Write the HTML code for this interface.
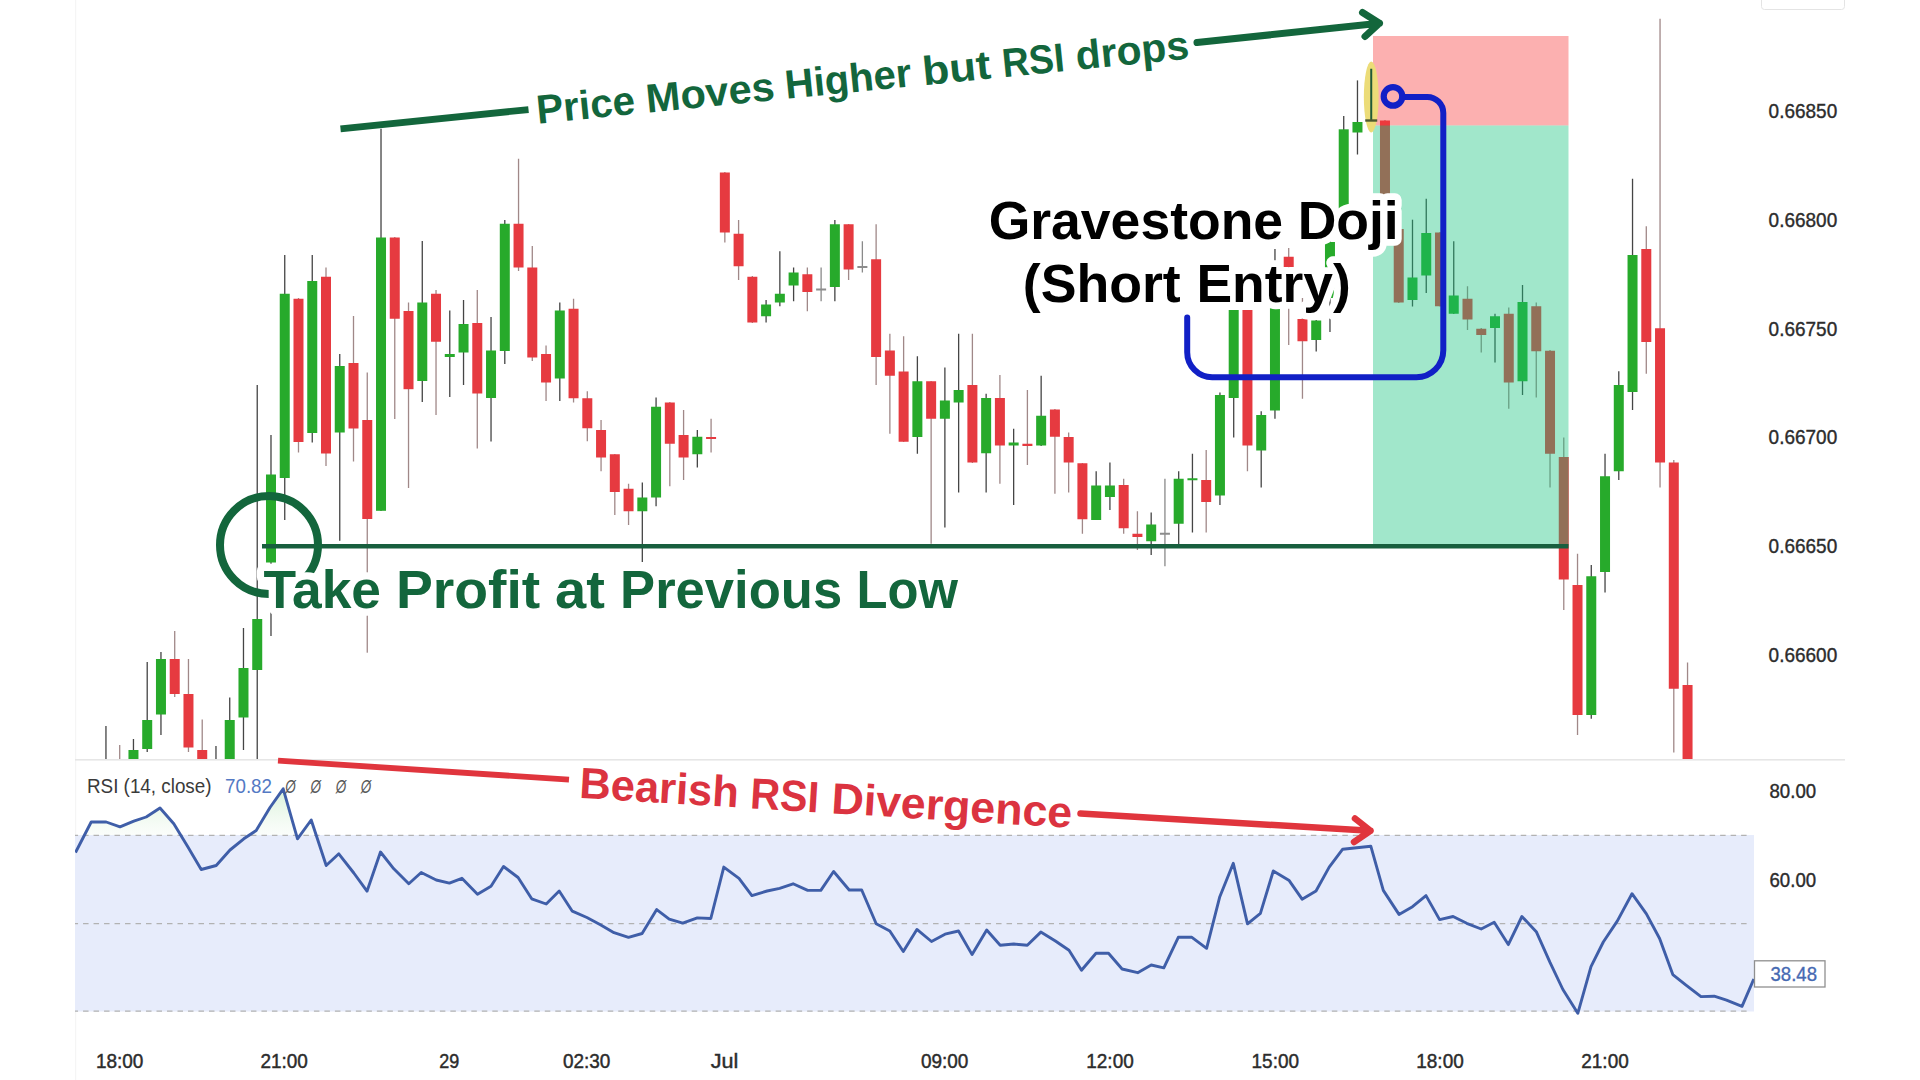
<!DOCTYPE html><html><head><meta charset="utf-8"><title>chart</title><style>html,body{margin:0;padding:0;background:#fff;width:1920px;height:1080px;overflow:hidden}svg{display:block}</style></head><body>
<svg width="1920" height="1080" viewBox="0 0 1920 1080" font-family="Liberation Sans, sans-serif">
<defs><linearGradient id="ob" x1="0" y1="780" x2="0" y2="835" gradientUnits="userSpaceOnUse"><stop offset="0" stop-color="#c8ecc8" stop-opacity="0.9"/><stop offset="1" stop-color="#e8f6e8" stop-opacity="0.2"/></linearGradient><clipPath id="main"><rect x="75" y="0" width="1680" height="759.5"/></clipPath><clipPath id="rsi"><rect x="75" y="760" width="1679" height="300"/></clipPath></defs>
<rect width="1920" height="1080" fill="#fff"/>
<rect x="75" y="0" width="1.2" height="1080" fill="#f5f5f5"/>
<rect x="75" y="835" width="1679" height="176.5" fill="#e7ecfb"/>
<polygon points="84.4,835.3 91.2,822.0 106.2,822.0 120.0,826.8 133.8,821.2 146.2,817.0 160.0,808.0 173.8,823.8 180.8,835.3" fill="url(#ob)"/>
<polygon points="249.0,835.3 256.2,830.5 270.0,807.5 283.2,788.8 296.5,835.3" fill="url(#ob)"/>
<polygon points="300.0,835.3 311.2,820.0 316.3,835.3" fill="url(#ob)"/>
<line x1="75" y1="835.3" x2="1750" y2="835.3" stroke="#b2b2b2" stroke-width="1.3" stroke-dasharray="5.5 4.994" stroke-dashoffset="2.44"/>
<line x1="75" y1="923.6" x2="1750" y2="923.6" stroke="#b2b2b2" stroke-width="1.3" stroke-dasharray="5.5 4.994" stroke-dashoffset="2.44"/>
<line x1="75" y1="1011.1" x2="1750" y2="1011.1" stroke="#b2b2b2" stroke-width="1.3" stroke-dasharray="5.5 4.994" stroke-dashoffset="2.44"/>
<polyline clip-path="url(#rsi)" points="75.5,852.5 91.2,822.0 106.2,822.0 120.0,826.8 133.8,821.2 146.2,817.0 160.0,808.0 173.8,823.8 187.5,846.2 201.2,869.5 216.2,865.5 230.0,850.0 243.8,838.8 256.2,830.5 270.0,807.5 283.2,788.8 297.5,838.8 311.2,820.0 326.2,865.5 338.8,853.8 353.8,873.0 367.0,891.2 380.5,852.0 393.8,868.8 408.8,883.8 421.2,872.5 436.2,880.0 449.4,883.1 461.9,878.3 477.5,894.2 491.0,886.2 503.5,866.5 518.1,877.5 531.7,898.8 546.2,904.0 559.2,891.0 572.3,911.2 586.9,917.5 600.4,924.8 614.0,932.7 628.5,937.3 642.1,933.5 656.7,909.6 669.2,919.2 682.7,923.1 697.3,917.9 710.8,918.5 723.8,867.1 739.0,878.3 751.9,895.6 767.1,891.0 779.6,888.3 793.1,883.8 807.7,890.4 820.8,890.4 833.6,871.5 849.2,890.0 861.7,890.0 876.2,923.8 889.8,931.0 903.3,951.5 916.9,929.4 931.5,941.5 945.0,934.2 958.5,931.0 972.1,954.6 986.7,930.0 1000.2,945.2 1013.8,944.0 1027.3,945.2 1040.8,932.1 1055.4,941.0 1069.0,950.2 1081.5,970.2 1096.0,953.3 1108.5,953.3 1122.1,969.0 1137.7,972.7 1151.2,965.0 1163.8,967.9 1178.3,937.3 1191.9,937.3 1206.6,948.3 1219.8,896.7 1233.3,863.3 1247.5,923.8 1260.4,913.3 1273.3,871.0 1289.2,880.6 1302.1,899.2 1316.0,891.0 1329.2,867.1 1342.7,849.2 1370.8,846.2 1383.3,890.4 1399.0,914.4 1412.5,906.7 1426.0,895.6 1439.6,919.6 1453.1,916.5 1466.7,923.3 1481.2,929.0 1494.2,922.3 1508.3,944.6 1521.9,916.5 1536.5,932.1 1550.0,962.3 1562.9,989.5 1577.8,1013.3 1591.0,966.7 1603.3,942.0 1617.4,920.9 1632.0,893.7 1646.4,913.9 1659.6,938.5 1672.8,974.6 1686.0,985.1 1701.0,996.6 1714.2,996.2 1726.5,1000.1 1742.0,1006.3 1753.8,979.0" fill="none" stroke="#3f5ea8" stroke-width="2.9" stroke-linejoin="round"/>
<g clip-path="url(#main)">
<rect x="105.30" y="726.00" width="1.3" height="44.00" fill="#454545"/>
<rect x="100.95" y="760.00" width="10.0" height="10.00" fill="#27aa2b"/>
<rect x="119.05" y="745.00" width="1.3" height="25.00" fill="#a08888"/>
<rect x="114.70" y="760.00" width="10.0" height="10.00" fill="#e63a40"/>
<rect x="132.81" y="739.00" width="1.3" height="31.00" fill="#454545"/>
<rect x="128.46" y="750.00" width="10.0" height="20.00" fill="#27aa2b"/>
<rect x="146.56" y="662.00" width="1.3" height="90.00" fill="#454545"/>
<rect x="142.21" y="720.00" width="10.0" height="29.00" fill="#27aa2b"/>
<rect x="160.31" y="652.00" width="1.3" height="83.00" fill="#454545"/>
<rect x="155.96" y="659.00" width="10.0" height="55.50" fill="#27aa2b"/>
<rect x="174.06" y="631.00" width="1.3" height="66.00" fill="#a08888"/>
<rect x="169.72" y="659.00" width="10.0" height="35.00" fill="#e63a40"/>
<rect x="187.82" y="659.00" width="1.3" height="93.00" fill="#a08888"/>
<rect x="183.47" y="694.00" width="10.0" height="53.50" fill="#e63a40"/>
<rect x="201.57" y="719.50" width="1.3" height="50.50" fill="#a08888"/>
<rect x="197.22" y="750.00" width="10.0" height="20.00" fill="#e63a40"/>
<rect x="215.32" y="746.00" width="1.3" height="24.00" fill="#454545"/>
<rect x="210.97" y="760.00" width="10.0" height="10.00" fill="#27aa2b"/>
<rect x="229.08" y="697.50" width="1.3" height="72.50" fill="#454545"/>
<rect x="224.73" y="720.00" width="10.0" height="50.00" fill="#27aa2b"/>
<rect x="242.83" y="628.00" width="1.3" height="122.00" fill="#454545"/>
<rect x="238.48" y="668.00" width="10.0" height="49.50" fill="#27aa2b"/>
<rect x="256.58" y="385.00" width="1.3" height="385.00" fill="#454545"/>
<rect x="252.23" y="619.00" width="10.0" height="51.00" fill="#27aa2b"/>
<rect x="270.34" y="435.00" width="1.3" height="201.00" fill="#454545"/>
<rect x="265.99" y="474.50" width="10.0" height="88.00" fill="#27aa2b"/>
<rect x="284.09" y="255.00" width="1.3" height="265.00" fill="#454545"/>
<rect x="279.74" y="293.75" width="10.0" height="184.25" fill="#27aa2b"/>
<rect x="297.84" y="298.00" width="1.3" height="154.50" fill="#a08888"/>
<rect x="293.49" y="298.75" width="10.0" height="143.25" fill="#e63a40"/>
<rect x="311.60" y="255.00" width="1.3" height="187.50" fill="#454545"/>
<rect x="307.25" y="281.00" width="10.0" height="152.00" fill="#27aa2b"/>
<rect x="325.35" y="267.50" width="1.3" height="198.50" fill="#a08888"/>
<rect x="321.00" y="276.75" width="10.0" height="176.75" fill="#e63a40"/>
<rect x="339.10" y="354.00" width="1.3" height="186.80" fill="#454545"/>
<rect x="334.75" y="366.00" width="10.0" height="66.50" fill="#27aa2b"/>
<rect x="352.85" y="316.00" width="1.3" height="145.50" fill="#a08888"/>
<rect x="348.50" y="363.00" width="10.0" height="65.50" fill="#e63a40"/>
<rect x="366.61" y="372.50" width="1.3" height="280.20" fill="#a08888"/>
<rect x="362.26" y="420.00" width="10.0" height="99.00" fill="#e63a40"/>
<rect x="380.36" y="128.75" width="1.3" height="382.25" fill="#454545"/>
<rect x="376.01" y="237.50" width="10.0" height="273.30" fill="#27aa2b"/>
<rect x="394.11" y="237.00" width="1.3" height="182.00" fill="#a08888"/>
<rect x="389.76" y="237.50" width="10.0" height="81.25" fill="#e63a40"/>
<rect x="407.87" y="302.50" width="1.3" height="185.50" fill="#a08888"/>
<rect x="403.52" y="311.00" width="10.0" height="78.20" fill="#e63a40"/>
<rect x="421.62" y="241.00" width="1.3" height="161.00" fill="#454545"/>
<rect x="417.27" y="302.50" width="10.0" height="78.50" fill="#27aa2b"/>
<rect x="435.37" y="290.00" width="1.3" height="125.00" fill="#a08888"/>
<rect x="431.02" y="293.75" width="10.0" height="48.00" fill="#e63a40"/>
<rect x="449.12" y="310.50" width="1.3" height="86.50" fill="#454545"/>
<rect x="444.77" y="354.00" width="10.0" height="3.00" fill="#27aa2b"/>
<rect x="462.88" y="300.00" width="1.3" height="85.00" fill="#454545"/>
<rect x="458.53" y="324.00" width="10.0" height="28.50" fill="#27aa2b"/>
<rect x="476.63" y="290.00" width="1.3" height="158.50" fill="#a08888"/>
<rect x="472.28" y="323.00" width="10.0" height="70.50" fill="#e63a40"/>
<rect x="490.38" y="317.00" width="1.3" height="124.50" fill="#454545"/>
<rect x="486.03" y="350.50" width="10.0" height="47.50" fill="#27aa2b"/>
<rect x="504.14" y="220.00" width="1.3" height="144.00" fill="#454545"/>
<rect x="499.79" y="223.75" width="10.0" height="127.25" fill="#27aa2b"/>
<rect x="517.89" y="158.75" width="1.3" height="112.25" fill="#a08888"/>
<rect x="513.54" y="223.75" width="10.0" height="43.75" fill="#e63a40"/>
<rect x="531.64" y="246.00" width="1.3" height="115.00" fill="#a08888"/>
<rect x="527.29" y="267.50" width="10.0" height="90.00" fill="#e63a40"/>
<rect x="545.40" y="345.50" width="1.3" height="55.50" fill="#a08888"/>
<rect x="541.05" y="354.00" width="10.0" height="28.50" fill="#e63a40"/>
<rect x="559.15" y="302.50" width="1.3" height="98.50" fill="#454545"/>
<rect x="554.80" y="310.50" width="10.0" height="68.00" fill="#27aa2b"/>
<rect x="572.90" y="298.75" width="1.3" height="103.75" fill="#a08888"/>
<rect x="568.55" y="308.75" width="10.0" height="89.50" fill="#e63a40"/>
<rect x="586.66" y="391.25" width="1.3" height="50.00" fill="#a08888"/>
<rect x="582.31" y="398.25" width="10.0" height="30.00" fill="#e63a40"/>
<rect x="600.41" y="420.00" width="1.3" height="51.25" fill="#a08888"/>
<rect x="596.06" y="430.00" width="10.0" height="27.50" fill="#e63a40"/>
<rect x="614.16" y="454.00" width="1.3" height="61.00" fill="#a08888"/>
<rect x="609.81" y="454.25" width="10.0" height="37.75" fill="#e63a40"/>
<rect x="627.91" y="483.75" width="1.3" height="41.25" fill="#a08888"/>
<rect x="623.56" y="488.75" width="10.0" height="22.50" fill="#e63a40"/>
<rect x="641.67" y="482.50" width="1.3" height="79.50" fill="#454545"/>
<rect x="637.32" y="497.50" width="10.0" height="13.75" fill="#27aa2b"/>
<rect x="655.42" y="397.50" width="1.3" height="108.75" fill="#454545"/>
<rect x="651.07" y="406.75" width="10.0" height="90.75" fill="#27aa2b"/>
<rect x="669.17" y="402.00" width="1.3" height="84.25" fill="#a08888"/>
<rect x="664.82" y="402.50" width="10.0" height="41.25" fill="#e63a40"/>
<rect x="682.93" y="410.00" width="1.3" height="70.00" fill="#a08888"/>
<rect x="678.58" y="435.00" width="10.0" height="22.50" fill="#e63a40"/>
<rect x="696.68" y="430.00" width="1.3" height="37.50" fill="#454545"/>
<rect x="692.33" y="436.75" width="10.0" height="17.50" fill="#27aa2b"/>
<rect x="710.43" y="418.75" width="1.3" height="33.75" fill="#a08888"/>
<rect x="706.08" y="437.00" width="10.0" height="2.00" fill="#e63a40"/>
<rect x="724.19" y="172.00" width="1.3" height="70.50" fill="#a08888"/>
<rect x="719.84" y="172.50" width="10.0" height="60.00" fill="#e63a40"/>
<rect x="737.94" y="220.00" width="1.3" height="60.00" fill="#a08888"/>
<rect x="733.59" y="233.75" width="10.0" height="32.50" fill="#e63a40"/>
<rect x="751.69" y="276.00" width="1.3" height="47.00" fill="#a08888"/>
<rect x="747.34" y="276.75" width="10.0" height="45.75" fill="#e63a40"/>
<rect x="765.44" y="300.00" width="1.3" height="22.50" fill="#454545"/>
<rect x="761.09" y="304.50" width="10.0" height="11.75" fill="#27aa2b"/>
<rect x="779.20" y="251.25" width="1.3" height="55.00" fill="#454545"/>
<rect x="774.85" y="293.75" width="10.0" height="8.75" fill="#27aa2b"/>
<rect x="792.95" y="267.50" width="1.3" height="33.75" fill="#454545"/>
<rect x="788.60" y="272.50" width="10.0" height="13.00" fill="#27aa2b"/>
<rect x="806.70" y="267.50" width="1.3" height="43.75" fill="#a08888"/>
<rect x="802.35" y="274.25" width="10.0" height="17.75" fill="#e63a40"/>
<rect x="820.46" y="267.50" width="1.3" height="33.75" fill="#8a8a8a"/>
<rect x="816.11" y="288.50" width="10.0" height="2.00" fill="#8c8c8c"/>
<rect x="834.21" y="220.00" width="1.3" height="81.25" fill="#454545"/>
<rect x="829.86" y="224.25" width="10.0" height="62.75" fill="#27aa2b"/>
<rect x="847.96" y="224.00" width="1.3" height="56.00" fill="#a08888"/>
<rect x="843.61" y="224.25" width="10.0" height="45.25" fill="#e63a40"/>
<rect x="861.72" y="241.25" width="1.3" height="31.25" fill="#8a8a8a"/>
<rect x="857.37" y="266.00" width="10.0" height="2.00" fill="#8c8c8c"/>
<rect x="875.47" y="224.25" width="1.3" height="160.75" fill="#a08888"/>
<rect x="871.12" y="259.25" width="10.0" height="97.75" fill="#e63a40"/>
<rect x="889.22" y="333.75" width="1.3" height="100.00" fill="#a08888"/>
<rect x="884.87" y="350.50" width="10.0" height="25.25" fill="#e63a40"/>
<rect x="902.97" y="336.25" width="1.3" height="105.75" fill="#a08888"/>
<rect x="898.62" y="371.50" width="10.0" height="70.25" fill="#e63a40"/>
<rect x="916.73" y="356.25" width="1.3" height="97.50" fill="#454545"/>
<rect x="912.38" y="381.25" width="10.0" height="55.75" fill="#27aa2b"/>
<rect x="930.48" y="381.00" width="1.3" height="162.75" fill="#a08888"/>
<rect x="926.13" y="381.25" width="10.0" height="37.50" fill="#e63a40"/>
<rect x="944.23" y="367.50" width="1.3" height="160.00" fill="#454545"/>
<rect x="939.88" y="400.50" width="10.0" height="18.25" fill="#27aa2b"/>
<rect x="957.99" y="333.75" width="1.3" height="158.75" fill="#454545"/>
<rect x="953.64" y="390.00" width="10.0" height="12.50" fill="#27aa2b"/>
<rect x="971.74" y="333.75" width="1.3" height="129.25" fill="#a08888"/>
<rect x="967.39" y="385.00" width="10.0" height="77.50" fill="#e63a40"/>
<rect x="985.49" y="393.75" width="1.3" height="98.75" fill="#454545"/>
<rect x="981.14" y="398.00" width="10.0" height="55.25" fill="#27aa2b"/>
<rect x="999.25" y="375.00" width="1.3" height="108.75" fill="#a08888"/>
<rect x="994.90" y="398.00" width="10.0" height="47.50" fill="#e63a40"/>
<rect x="1013.00" y="428.75" width="1.3" height="76.25" fill="#454545"/>
<rect x="1008.65" y="442.50" width="10.0" height="3.00" fill="#27aa2b"/>
<rect x="1026.75" y="390.00" width="1.3" height="75.00" fill="#a08888"/>
<rect x="1022.40" y="443.75" width="10.0" height="2.25" fill="#e63a40"/>
<rect x="1040.50" y="375.75" width="1.3" height="70.25" fill="#454545"/>
<rect x="1036.15" y="415.75" width="10.0" height="29.75" fill="#27aa2b"/>
<rect x="1054.26" y="409.00" width="1.3" height="84.75" fill="#a08888"/>
<rect x="1049.91" y="409.50" width="10.0" height="27.25" fill="#e63a40"/>
<rect x="1068.01" y="432.50" width="1.3" height="60.00" fill="#a08888"/>
<rect x="1063.66" y="437.00" width="10.0" height="25.50" fill="#e63a40"/>
<rect x="1081.76" y="463.00" width="1.3" height="70.75" fill="#a08888"/>
<rect x="1077.41" y="463.25" width="10.0" height="56.00" fill="#e63a40"/>
<rect x="1095.52" y="471.25" width="1.3" height="48.75" fill="#454545"/>
<rect x="1091.17" y="485.50" width="10.0" height="34.50" fill="#27aa2b"/>
<rect x="1109.27" y="462.50" width="1.3" height="47.50" fill="#454545"/>
<rect x="1104.92" y="485.50" width="10.0" height="11.50" fill="#27aa2b"/>
<rect x="1123.02" y="478.75" width="1.3" height="55.00" fill="#a08888"/>
<rect x="1118.67" y="485.00" width="10.0" height="43.25" fill="#e63a40"/>
<rect x="1136.77" y="511.25" width="1.3" height="38.75" fill="#a08888"/>
<rect x="1132.42" y="533.75" width="10.0" height="3.25" fill="#e63a40"/>
<rect x="1150.53" y="512.50" width="1.3" height="42.50" fill="#454545"/>
<rect x="1146.18" y="524.50" width="10.0" height="16.75" fill="#27aa2b"/>
<rect x="1164.28" y="478.75" width="1.3" height="87.50" fill="#8a8a8a"/>
<rect x="1159.93" y="532.75" width="10.0" height="2.00" fill="#8c8c8c"/>
<rect x="1178.03" y="471.25" width="1.3" height="73.75" fill="#454545"/>
<rect x="1173.68" y="478.75" width="10.0" height="45.00" fill="#27aa2b"/>
<rect x="1191.79" y="453.75" width="1.3" height="78.75" fill="#454545"/>
<rect x="1187.44" y="478.25" width="10.0" height="2.00" fill="#27aa2b"/>
<rect x="1205.54" y="450.00" width="1.3" height="82.50" fill="#a08888"/>
<rect x="1201.19" y="480.00" width="10.0" height="22.00" fill="#e63a40"/>
<rect x="1219.29" y="392.50" width="1.3" height="112.50" fill="#454545"/>
<rect x="1214.94" y="395.00" width="10.0" height="100.50" fill="#27aa2b"/>
<rect x="1233.05" y="310.00" width="1.3" height="127.50" fill="#454545"/>
<rect x="1228.70" y="310.00" width="10.0" height="88.00" fill="#27aa2b"/>
<rect x="1246.80" y="310.00" width="1.3" height="161.25" fill="#a08888"/>
<rect x="1242.45" y="310.00" width="10.0" height="135.50" fill="#e63a40"/>
<rect x="1260.55" y="411.25" width="1.3" height="76.25" fill="#454545"/>
<rect x="1256.20" y="415.00" width="10.0" height="35.50" fill="#27aa2b"/>
<rect x="1274.31" y="249.00" width="1.3" height="169.75" fill="#454545"/>
<rect x="1269.96" y="300.00" width="10.0" height="110.50" fill="#27aa2b"/>
<rect x="1288.06" y="248.00" width="1.3" height="97.00" fill="#a08888"/>
<rect x="1283.71" y="256.75" width="10.0" height="10.25" fill="#e63a40"/>
<rect x="1301.81" y="298.00" width="1.3" height="100.75" fill="#a08888"/>
<rect x="1297.46" y="319.00" width="10.0" height="22.25" fill="#e63a40"/>
<rect x="1315.56" y="320.00" width="1.3" height="31.50" fill="#454545"/>
<rect x="1311.21" y="320.50" width="10.0" height="19.50" fill="#27aa2b"/>
<rect x="1329.32" y="240.00" width="1.3" height="92.00" fill="#454545"/>
<rect x="1324.97" y="242.00" width="10.0" height="56.00" fill="#27aa2b"/>
<rect x="1343.07" y="116.00" width="1.3" height="124.00" fill="#454545"/>
<rect x="1338.72" y="129.30" width="10.0" height="110.70" fill="#27aa2b"/>
<rect x="1356.82" y="80.40" width="1.3" height="74.10" fill="#454545"/>
<rect x="1352.47" y="122.00" width="10.0" height="10.50" fill="#27aa2b"/>
<rect x="1384.33" y="120.00" width="1.3" height="120.00" fill="#a08888"/>
<rect x="1379.98" y="120.50" width="10.0" height="119.50" fill="#e63a40"/>
<rect x="1398.08" y="228.75" width="1.3" height="74.25" fill="#a08888"/>
<rect x="1393.73" y="229.00" width="10.0" height="73.50" fill="#e63a40"/>
<rect x="1411.84" y="219.70" width="1.3" height="86.80" fill="#454545"/>
<rect x="1407.49" y="277.50" width="10.0" height="22.50" fill="#27aa2b"/>
<rect x="1425.59" y="198.75" width="1.3" height="94.25" fill="#454545"/>
<rect x="1421.24" y="233.00" width="10.0" height="42.50" fill="#27aa2b"/>
<rect x="1439.34" y="232.00" width="1.3" height="74.50" fill="#a08888"/>
<rect x="1434.99" y="232.50" width="10.0" height="73.75" fill="#e63a40"/>
<rect x="1453.09" y="241.25" width="1.3" height="72.75" fill="#454545"/>
<rect x="1448.74" y="295.50" width="10.0" height="18.25" fill="#27aa2b"/>
<rect x="1466.85" y="286.25" width="1.3" height="43.75" fill="#a08888"/>
<rect x="1462.50" y="298.75" width="10.0" height="20.75" fill="#e63a40"/>
<rect x="1480.60" y="328.00" width="1.3" height="24.50" fill="#a08888"/>
<rect x="1476.25" y="328.75" width="10.0" height="6.25" fill="#e63a40"/>
<rect x="1494.35" y="313.75" width="1.3" height="48.75" fill="#454545"/>
<rect x="1490.00" y="316.25" width="10.0" height="11.75" fill="#27aa2b"/>
<rect x="1508.11" y="307.50" width="1.3" height="101.25" fill="#a08888"/>
<rect x="1503.76" y="313.75" width="10.0" height="68.75" fill="#e63a40"/>
<rect x="1521.86" y="285.00" width="1.3" height="110.00" fill="#454545"/>
<rect x="1517.51" y="302.00" width="10.0" height="79.25" fill="#27aa2b"/>
<rect x="1535.61" y="302.50" width="1.3" height="95.00" fill="#a08888"/>
<rect x="1531.26" y="306.25" width="10.0" height="45.00" fill="#e63a40"/>
<rect x="1549.37" y="350.00" width="1.3" height="137.50" fill="#a08888"/>
<rect x="1545.02" y="350.75" width="10.0" height="103.00" fill="#e63a40"/>
<rect x="1563.12" y="437.50" width="1.3" height="172.50" fill="#a08888"/>
<rect x="1558.77" y="457.00" width="10.0" height="122.50" fill="#e63a40"/>
<rect x="1576.87" y="553.75" width="1.3" height="181.25" fill="#a08888"/>
<rect x="1572.52" y="585.00" width="10.0" height="130.00" fill="#e63a40"/>
<rect x="1590.62" y="565.00" width="1.3" height="153.75" fill="#454545"/>
<rect x="1586.27" y="576.25" width="10.0" height="138.75" fill="#27aa2b"/>
<rect x="1604.38" y="453.75" width="1.3" height="138.75" fill="#454545"/>
<rect x="1600.03" y="476.25" width="10.0" height="95.75" fill="#27aa2b"/>
<rect x="1618.13" y="371.25" width="1.3" height="108.75" fill="#454545"/>
<rect x="1613.78" y="385.00" width="10.0" height="86.25" fill="#27aa2b"/>
<rect x="1631.88" y="178.75" width="1.3" height="231.25" fill="#454545"/>
<rect x="1627.53" y="255.00" width="10.0" height="137.00" fill="#27aa2b"/>
<rect x="1645.64" y="226.25" width="1.3" height="147.50" fill="#a08888"/>
<rect x="1641.29" y="249.00" width="10.0" height="93.00" fill="#e63a40"/>
<rect x="1659.39" y="18.75" width="1.3" height="468.75" fill="#a08888"/>
<rect x="1655.04" y="328.25" width="10.0" height="134.25" fill="#e63a40"/>
<rect x="1673.14" y="460.00" width="1.3" height="292.50" fill="#a08888"/>
<rect x="1668.79" y="462.50" width="10.0" height="226.25" fill="#e63a40"/>
<rect x="1686.89" y="662.50" width="1.3" height="107.50" fill="#a08888"/>
<rect x="1682.55" y="685.00" width="10.0" height="85.00" fill="#e63a40"/>
</g>
<rect x="1373" y="36" width="195.5" height="89.5" fill="rgb(247,57,57)" fill-opacity="0.4"/>
<rect x="1373" y="125.5" width="195.5" height="420.5" fill="rgb(20,195,125)" fill-opacity="0.4"/>
<ellipse cx="1371.23" cy="97" rx="7.4" ry="35.5" fill="#ecdc78"/>
<rect x="1370.23" y="68.75" width="2" height="52" fill="#1f5a38"/>
<rect x="1365.23" y="119.3" width="12" height="2.4" fill="#4f5a30"/>
<rect x="75" y="759" width="1770" height="1.6" fill="#e6e6e6"/>
<text x="1768.6" y="117.5" fill="#2c2c2c" stroke="#2c2c2c" stroke-width="0.4" font-size="20.8" textLength="68.6" lengthAdjust="spacingAndGlyphs">0.66850</text>
<text x="1768.6" y="226.5" fill="#2c2c2c" stroke="#2c2c2c" stroke-width="0.4" font-size="20.8" textLength="68.6" lengthAdjust="spacingAndGlyphs">0.66800</text>
<text x="1768.6" y="335.5" fill="#2c2c2c" stroke="#2c2c2c" stroke-width="0.4" font-size="20.8" textLength="68.6" lengthAdjust="spacingAndGlyphs">0.66750</text>
<text x="1768.6" y="444.0" fill="#2c2c2c" stroke="#2c2c2c" stroke-width="0.4" font-size="20.8" textLength="68.6" lengthAdjust="spacingAndGlyphs">0.66700</text>
<text x="1768.6" y="552.5" fill="#2c2c2c" stroke="#2c2c2c" stroke-width="0.4" font-size="20.8" textLength="68.6" lengthAdjust="spacingAndGlyphs">0.66650</text>
<text x="1768.6" y="661.5" fill="#2c2c2c" stroke="#2c2c2c" stroke-width="0.4" font-size="20.8" textLength="68.6" lengthAdjust="spacingAndGlyphs">0.66600</text>
<text x="1769.5" y="797.9" fill="#2c2c2c" stroke="#2c2c2c" stroke-width="0.4" font-size="20" textLength="46.6" lengthAdjust="spacingAndGlyphs">80.00</text>
<text x="1769.5" y="887.2" fill="#2c2c2c" stroke="#2c2c2c" stroke-width="0.4" font-size="20" textLength="46.6" lengthAdjust="spacingAndGlyphs">60.00</text>
<rect x="1754.5" y="960.8" width="70.5" height="26.2" fill="#fff" stroke="#8f8f8f" stroke-width="1.3"/>
<text x="1770.5" y="981.3" fill="#4669b2" stroke="#4669b2" stroke-width="0.35" font-size="20.5" textLength="46.5" lengthAdjust="spacingAndGlyphs">38.48</text>
<rect x="1761.5" y="-6" width="83" height="15.5" rx="3" fill="#fff" stroke="#e4e4e4" stroke-width="1"/>
<text x="119.7" y="1068.3" text-anchor="middle" fill="#2c2c2c" stroke="#2c2c2c" stroke-width="0.45" font-size="21" textLength="47.5" lengthAdjust="spacingAndGlyphs">18:00</text>
<text x="284.2" y="1068.3" text-anchor="middle" fill="#2c2c2c" stroke="#2c2c2c" stroke-width="0.45" font-size="21" textLength="47.5" lengthAdjust="spacingAndGlyphs">21:00</text>
<text x="449.3" y="1068.3" text-anchor="middle" fill="#2c2c2c" stroke="#2c2c2c" stroke-width="0.45" font-size="21" textLength="20.0" lengthAdjust="spacingAndGlyphs">29</text>
<text x="586.7" y="1068.3" text-anchor="middle" fill="#2c2c2c" stroke="#2c2c2c" stroke-width="0.45" font-size="21" textLength="47.5" lengthAdjust="spacingAndGlyphs">02:30</text>
<text x="724.5" y="1068.3" text-anchor="middle" fill="#2c2c2c" stroke="#2c2c2c" stroke-width="0.45" font-size="21" textLength="27.6" lengthAdjust="spacingAndGlyphs">Jul</text>
<text x="944.7" y="1068.3" text-anchor="middle" fill="#2c2c2c" stroke="#2c2c2c" stroke-width="0.45" font-size="21" textLength="47.5" lengthAdjust="spacingAndGlyphs">09:00</text>
<text x="1110.0" y="1068.3" text-anchor="middle" fill="#2c2c2c" stroke="#2c2c2c" stroke-width="0.45" font-size="21" textLength="47.5" lengthAdjust="spacingAndGlyphs">12:00</text>
<text x="1275.3" y="1068.3" text-anchor="middle" fill="#2c2c2c" stroke="#2c2c2c" stroke-width="0.45" font-size="21" textLength="47.5" lengthAdjust="spacingAndGlyphs">15:00</text>
<text x="1440.0" y="1068.3" text-anchor="middle" fill="#2c2c2c" stroke="#2c2c2c" stroke-width="0.45" font-size="21" textLength="47.5" lengthAdjust="spacingAndGlyphs">18:00</text>
<text x="1605.0" y="1068.3" text-anchor="middle" fill="#2c2c2c" stroke="#2c2c2c" stroke-width="0.45" font-size="21" textLength="47.5" lengthAdjust="spacingAndGlyphs">21:00</text>
<text x="87" y="792.5" fill="#3a3a3a" font-size="20" textLength="124.5" lengthAdjust="spacingAndGlyphs">RSI (14, close)</text>
<text x="225" y="792.5" fill="#5479c4" font-size="20" textLength="47" lengthAdjust="spacingAndGlyphs">70.82</text>
<text x="290.5" y="792.8" fill="#5a5a5a" font-size="18" text-anchor="middle" textLength="10.5" lengthAdjust="spacingAndGlyphs" font-style="italic">&#216;</text>
<text x="315.7" y="792.8" fill="#5a5a5a" font-size="18" text-anchor="middle" textLength="10.5" lengthAdjust="spacingAndGlyphs" font-style="italic">&#216;</text>
<text x="341.0" y="792.8" fill="#5a5a5a" font-size="18" text-anchor="middle" textLength="10.5" lengthAdjust="spacingAndGlyphs" font-style="italic">&#216;</text>
<text x="366.0" y="792.8" fill="#5a5a5a" font-size="18" text-anchor="middle" textLength="10.5" lengthAdjust="spacingAndGlyphs" font-style="italic">&#216;</text>
<line x1="262" y1="546.3" x2="1568.5" y2="546.3" stroke="#185f3e" stroke-width="4.6"/>
<circle cx="269" cy="545" r="49" fill="none" stroke="#13663c" stroke-width="8"/>
<g font-size="53.5" font-weight="bold">
<text x="263.40" y="607.50" textLength="117.63" lengthAdjust="spacingAndGlyphs" fill="#fff" stroke="#fff" stroke-width="14.5" stroke-linejoin="round">Take</text>
<text x="395.95" y="607.50" textLength="144.32" lengthAdjust="spacingAndGlyphs" fill="#fff" stroke="#fff" stroke-width="14.5" stroke-linejoin="round">Profit</text>
<text x="555.12" y="607.50" textLength="49.85" lengthAdjust="spacingAndGlyphs" fill="#fff" stroke="#fff" stroke-width="14.5" stroke-linejoin="round">at</text>
<text x="620.12" y="607.50" textLength="222.02" lengthAdjust="spacingAndGlyphs" fill="#fff" stroke="#fff" stroke-width="14.5" stroke-linejoin="round">Previous</text>
<text x="856.53" y="607.50" textLength="101.40" lengthAdjust="spacingAndGlyphs" fill="#fff" stroke="#fff" stroke-width="14.5" stroke-linejoin="round">Low</text>
<text x="263.40" y="607.50" textLength="117.63" lengthAdjust="spacingAndGlyphs" fill="#13663c">Take</text>
<text x="395.95" y="607.50" textLength="144.32" lengthAdjust="spacingAndGlyphs" fill="#13663c">Profit</text>
<text x="555.12" y="607.50" textLength="49.85" lengthAdjust="spacingAndGlyphs" fill="#13663c">at</text>
<text x="620.12" y="607.50" textLength="222.02" lengthAdjust="spacingAndGlyphs" fill="#13663c">Previous</text>
<text x="856.53" y="607.50" textLength="101.40" lengthAdjust="spacingAndGlyphs" fill="#13663c">Low</text>
</g>
<g font-size="53.0" font-weight="bold">
<text x="988.63" y="239.30" textLength="294.51" lengthAdjust="spacingAndGlyphs" fill="#fff" stroke="#fff" stroke-width="13.5" stroke-linejoin="round">Gravestone</text>
<text x="1297.65" y="239.30" textLength="101.11" lengthAdjust="spacingAndGlyphs" fill="#fff" stroke="#fff" stroke-width="13.5" stroke-linejoin="round">Doji</text>
<text x="988.63" y="239.30" textLength="294.51" lengthAdjust="spacingAndGlyphs" fill="#000">Gravestone</text>
<text x="1297.65" y="239.30" textLength="101.11" lengthAdjust="spacingAndGlyphs" fill="#000">Doji</text>
</g>
<g font-size="53.0" font-weight="bold">
<text x="1022.78" y="302.30" textLength="157.98" lengthAdjust="spacingAndGlyphs" fill="#fff" stroke="#fff" stroke-width="13.5" stroke-linejoin="round">(Short</text>
<text x="1196.46" y="302.30" textLength="154.37" lengthAdjust="spacingAndGlyphs" fill="#fff" stroke="#fff" stroke-width="13.5" stroke-linejoin="round">Entry)</text>
<text x="1022.78" y="302.30" textLength="157.98" lengthAdjust="spacingAndGlyphs" fill="#000">(Short</text>
<text x="1196.46" y="302.30" textLength="154.37" lengthAdjust="spacingAndGlyphs" fill="#000">Entry)</text>
</g>
<g transform="translate(540.3 123.4) rotate(-5.7)" font-size="40.5" font-weight="bold">
<text x="-2.53" y="0.00" textLength="98.83" lengthAdjust="spacingAndGlyphs" fill="#fff" stroke="#fff" stroke-width="8.0" stroke-linejoin="round">Price</text>
<text x="107.51" y="0.00" textLength="129.02" lengthAdjust="spacingAndGlyphs" fill="#fff" stroke="#fff" stroke-width="8.0" stroke-linejoin="round">Moves</text>
<text x="247.15" y="0.00" textLength="126.82" lengthAdjust="spacingAndGlyphs" fill="#fff" stroke="#fff" stroke-width="8.0" stroke-linejoin="round">Higher</text>
<text x="385.35" y="0.00" textLength="68.36" lengthAdjust="spacingAndGlyphs" fill="#fff" stroke="#fff" stroke-width="8.0" stroke-linejoin="round">but</text>
<text x="465.46" y="0.00" textLength="62.35" lengthAdjust="spacingAndGlyphs" fill="#fff" stroke="#fff" stroke-width="8.0" stroke-linejoin="round">RSI</text>
<text x="539.42" y="0.00" textLength="113.64" lengthAdjust="spacingAndGlyphs" fill="#fff" stroke="#fff" stroke-width="8.0" stroke-linejoin="round">drops</text>
<text x="-2.53" y="0.00" textLength="98.83" lengthAdjust="spacingAndGlyphs" fill="#13663c">Price</text>
<text x="107.51" y="0.00" textLength="129.02" lengthAdjust="spacingAndGlyphs" fill="#13663c">Moves</text>
<text x="247.15" y="0.00" textLength="126.82" lengthAdjust="spacingAndGlyphs" fill="#13663c">Higher</text>
<text x="385.35" y="0.00" textLength="68.36" lengthAdjust="spacingAndGlyphs" fill="#13663c">but</text>
<text x="465.46" y="0.00" textLength="62.35" lengthAdjust="spacingAndGlyphs" fill="#13663c">RSI</text>
<text x="539.42" y="0.00" textLength="113.64" lengthAdjust="spacingAndGlyphs" fill="#13663c">drops</text>
</g>
<g transform="translate(581.5 797.9) rotate(3.5)" font-size="43.7" font-weight="bold">
<text x="-2.72" y="0.00" textLength="159.42" lengthAdjust="spacingAndGlyphs" fill="#fff" stroke="#fff" stroke-width="7.0" stroke-linejoin="round">Bearish</text>
<text x="168.32" y="0.00" textLength="68.82" lengthAdjust="spacingAndGlyphs" fill="#fff" stroke="#fff" stroke-width="7.0" stroke-linejoin="round">RSI</text>
<text x="249.60" y="0.00" textLength="241.21" lengthAdjust="spacingAndGlyphs" fill="#fff" stroke="#fff" stroke-width="7.0" stroke-linejoin="round">Divergence</text>
<text x="-2.72" y="0.00" textLength="159.42" lengthAdjust="spacingAndGlyphs" fill="#db3340">Bearish</text>
<text x="168.32" y="0.00" textLength="68.82" lengthAdjust="spacingAndGlyphs" fill="#db3340">RSI</text>
<text x="249.60" y="0.00" textLength="241.21" lengthAdjust="spacingAndGlyphs" fill="#db3340">Divergence</text>
</g>
<line x1="340.5" y1="128.8" x2="528.5" y2="109.6" stroke="#13663c" stroke-width="6.8"/>
<path d="M1197 42.6 L1379.5 23.2 M1362.5 12.5 L1379.5 23.2 L1365 36.5" fill="none" stroke="#13663c" stroke-width="7" stroke-linecap="round" stroke-linejoin="round"/>
<line x1="278" y1="760.6" x2="569" y2="779.6" stroke="#e0353d" stroke-width="5.8"/>
<path d="M1080.5 813.6 L1370.5 830.8 M1355 818.5 L1370.5 830.8 L1354 842" fill="none" stroke="#e0353d" stroke-width="6.5" stroke-linecap="round" stroke-linejoin="round"/>
<path d="M1187.2 317.5 L1187.2 352.3 A25 25 0 0 0 1212.2 377.3 L1416.3 377.3 A27 27 0 0 0 1443.3 350.3 L1443.3 113 A16 16 0 0 0 1427.3 97 L1402.3 97" fill="none" stroke="#1120c6" stroke-width="6" stroke-linecap="round"/>
<circle cx="1393" cy="96.4" r="9.3" fill="none" stroke="#1120c6" stroke-width="6.2"/>
</svg></body></html>
